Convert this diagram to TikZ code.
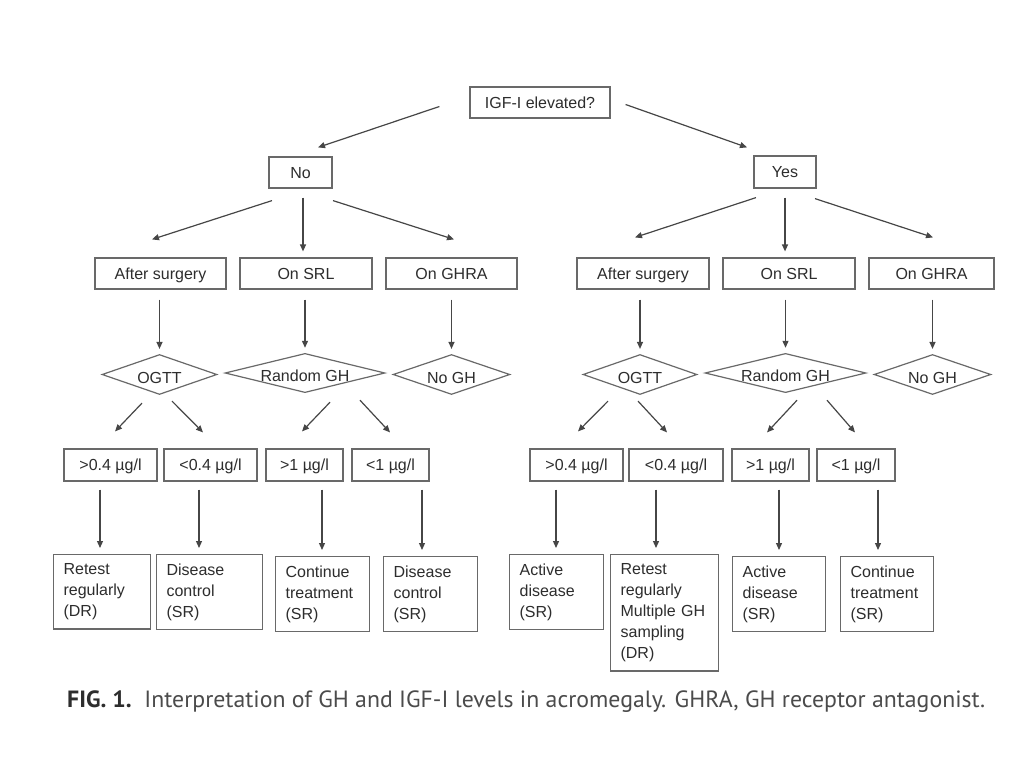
\documentclass[tikz,border=0pt]{standalone}
\usepackage{fontspec}
\setmainfont{Liberation Sans}
\newfontfamily\capfont{PT Sans}
\usetikzlibrary{shapes.geometric,arrows.meta,calc}
\definecolor{linec}{RGB}{70,70,70}
\definecolor{boxc}{RGB}{105,105,105}
\definecolor{txtc}{RGB}{45,45,45}
\definecolor{capc}{RGB}{75,75,75}
\definecolor{capb}{RGB}{45,45,45}
\begin{document}
\begin{tikzpicture}[x=1pt,y=-1pt,
  every node/.style={text=txtc, font=\fontsize{16}{21}\selectfont},
  box/.style={draw=boxc, line width=1.2pt, rectangle, inner sep=0pt, minimum height=31pt, text height=11.5pt, text depth=0pt},
  dia/.style={draw=boxc, line width=1.2pt, diamond, aspect=4, inner sep=0pt, text height=17pt, text depth=0pt},
  res/.style={draw=boxc, line width=1.2pt, rectangle, anchor=north west, align=left, inner xsep=10pt, inner ysep=9pt},
  arr/.style={draw=linec, line width=1.2pt, -{Triangle[length=7pt,width=6pt]}}]
\fill[white] (0,0) rectangle (1024,768);
\useasboundingbox (0,0) rectangle (1024,768);

% level 0/1
\node[box, minimum width=140pt] (igf) at (540,102.5) {IGF-I elevated?};
\node[box, minimum width=63pt] (no) at (300.5,172.5) {No};
\node[box, minimum width=62pt, minimum height=32pt] (yes) at (785,172) {Yes};

% level 2
\node[box, minimum width=131pt] (asL) at (160.5,273.5) {After surgery};
\node[box, minimum width=132pt] (srlL) at (306,273.5) {On SRL};
\node[box, minimum width=131pt] (ghL) at (451.5,273.5) {On GHRA};
\node[box, minimum width=132pt] (asR) at (643,273.5) {After surgery};
\node[box, minimum width=132pt] (srlR) at (789,273.5) {On SRL};
\node[box, minimum width=125pt] (ghR) at (931.5,273.5) {On GHRA};

% diamonds
\node[dia, minimum width=115pt, minimum height=40pt] (ogL) at (159.5,374.5) {OGTT};
\node[dia, minimum width=160pt, minimum height=39pt] (rgL) at (305,373) {Random GH};
\node[dia, minimum width=115pt, minimum height=40pt] (ngL) at (451.5,374.5) {No GH};
\node[dia, minimum width=114pt, minimum height=40pt] (ogR) at (640,374.5) {OGTT};
\node[dia, minimum width=161pt, minimum height=39pt] (rgR) at (785.5,373) {Random GH};
\node[dia, minimum width=115pt, minimum height=40pt] (ngR) at (932.5,374.5) {No GH};

% level 4
\node[box, minimum width=93pt, minimum height=32pt] (l1) at (110.5,465) {>0.4 µg/l};
\node[box, minimum width=93pt, minimum height=32pt] (l2) at (210.5,465) {<0.4 µg/l};
\node[box, minimum width=77pt, minimum height=32pt] (l3) at (304.5,465) {>1 µg/l};
\node[box, minimum width=77pt, minimum height=32pt] (l4) at (390.5,465) {<1 µg/l};
\node[box, minimum width=93pt, minimum height=32pt] (r1) at (576.5,465) {>0.4 µg/l};
\node[box, minimum width=94pt, minimum height=32pt] (r2) at (676,465) {<0.4 µg/l};
\node[box, minimum width=77pt, minimum height=32pt] (r3) at (770.5,465) {>1 µg/l};
\node[box, minimum width=78pt, minimum height=32pt] (r4) at (856,465) {<1 µg/l};

% results
\node[res, text width=77pt] (b1) at (53,554) {Retest\\regularly\\(DR)};
\node[res, text width=86pt] (b2) at (156,554) {Disease\\control\\(SR)};
\node[res, text width=74pt] (b3) at (275,556) {Continue\\treatment\\(SR)};
\node[res, text width=74pt] (b4) at (383,556) {Disease\\control\\(SR)};
\node[res, text width=74pt] (b5) at (509,554) {Active\\disease\\(SR)};
\node[res, text width=88pt] (b6) at (610,554) {Retest\\regularly\\Multiple GH\\sampling\\(DR)};
\node[res, text width=73pt] (b7) at (732,556) {Active\\disease\\(SR)};
\node[res, text width=73pt] (b8) at (840,556) {Continue\\treatment\\(SR)};

% arrows top
\draw[arr] ([shift={(-30,4)}]igf.west) -- ([shift={(17.5,-9)}]no.north);
\draw[arr] ([shift={(15,2)}]igf.east) -- ([shift={(-38,-8)}]yes.north);
\draw[arr] ([shift={(-28.5,12)}]no.south) -- ([shift={(-8.5,-18)}]asL.north);
\draw[arr] ([shift={(2.5,9)}]no.south) -- ([shift={(-3,-6)}]srlL.north);
\draw[arr] ([shift={(32.5,12)}]no.south) -- ([shift={(2.5,-18)}]ghL.north);
\draw[arr] ([shift={(-29,9)}]yes.south) -- ([shift={(-8,-20)}]asR.north);
\draw[arr] ([shift={(0,9)}]yes.south) -- ([shift={(-4,-6)}]srlR.north);
\draw[arr] ([shift={(30,10)}]yes.south) -- ([shift={(1.5,-20)}]ghR.north);

% boxes to diamonds
\foreach \a/\d in {asL/ogL, srlL/rgL, ghL/ngL, asR/ogR, srlR/rgR, ghR/ngR}{
  \draw[arr] ($(\d.north |- \a.south)+(0,10)$) -- ($(\d.north)+(0,-5)$);
}

% diamonds to level 4
\draw[arr] ([shift={(-17.5,8)}]ogL.south) -- ([shift={(4.5,-17)}]l1.north);
\draw[arr] ([shift={(12.5,6)}]ogL.south) -- ([shift={(-7.5,-16)}]l2.north);
\draw[arr] ([shift={(25,9)}]rgL.south) -- ([shift={(-2.5,-17)}]l3.north);
\draw[arr] ([shift={(55,7)}]rgL.south) -- ([shift={(-0.5,-16)}]l4.north);
\draw[arr] ([shift={(-32,6)}]ogR.south) -- ([shift={(1.5,-17)}]r1.north);
\draw[arr] ([shift={(-2,6)}]ogR.south) -- ([shift={(-9,-16)}]r2.north);
\draw[arr] ([shift={(11.5,7)}]rgR.south) -- ([shift={(-3.5,-16)}]r3.north);
\draw[arr] ([shift={(41.5,7)}]rgR.south) -- ([shift={(-1,-16)}]r4.north);

% level 4 to results
\foreach \a/\b/\dx in {l1/b1/-10.5, l2/b2/-11.5, l3/b3/17.5, l4/b4/31.5, r1/b5/-20.5, r2/b6/-20, r3/b7/8.5, r4/b8/22}{
  \coordinate (s-\a) at ($(\a.south)+(\dx,8)$);
  \draw[arr] (s-\a) -- ($(s-\a |- \b.north)+(0,-6)$);
}

% caption
\node[anchor=base west, inner sep=0pt, text=capc] (cap) at (67,707.5)
  {\resizebox{918pt}{\height}{\capfont\fontsize{23.5}{28}\selectfont\textcolor{capb}{\textbf{FIG. 1.}}\ \ Interpretation of GH and IGF-I levels in acromegaly. GHRA, GH receptor antagonist.}};
\end{tikzpicture}
\end{document}
